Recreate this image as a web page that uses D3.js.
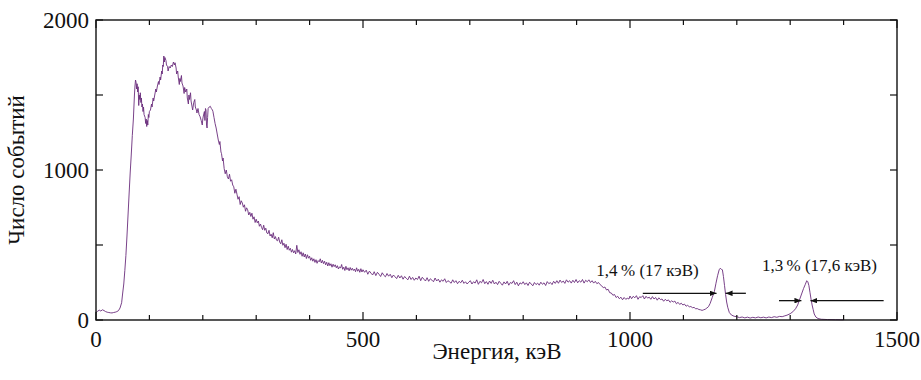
<!DOCTYPE html>
<html><head><meta charset="utf-8">
<script src="https://cdn.jsdelivr.net/npm/d3@7"></script>
<style>
html,body{margin:0;padding:0;background:#fff;}
</style></head>
<body><svg id="c" width="921" height="380"></svg>
<script>
// ---- data ----
const energy = [0,3,6,9,12,15,18,21,24,27,30,33,36,39,42,45,48,
50,52,54,56,58,60,62,64,66,68,70,71,72,73,74,75,76,77,78,79,80,81,82,83,84,85,86,87,88,89,90,92,93,94,95,96,97,98,99,100,
102,104,105,107,108,110,112,113,115,117,118,120,121,123,124,125,126,127,128,129,131,132,134,135,137,139,141,143,145,147,148,150,
151,153,154,156,157,158,160,161,163,165,166,168,170,171,173,174,175,177,178,180,181,183,185,186,188,189,191,193,195,197,199,200,
201,203,204,205,206,207,208,209,210,212,214,216,218,219,221,223,225,227,229,231,232,234,235,237,238,
240,242,244,246,248,250,252,254,256,258,260,262,264,266,268,270,272,274,276,278,280,282,284,286,288,290,292,294,296,298,
300,302,304,306,308,310,312,314,316,318,320,322,324,326,328,330,332,334,336,338,340,342,344,346,348,350,352,354,356,358,
360,362,364,366,368,370,372,374,376,378,380,382,384,386,388,390,392,394,396,398,400,402,404,406,408,410,412,414,416,418,
420,422,424,426,428,430,432,434,436,438,440,442,444,446,448,450,452,454,456,458,460,462,464,466,468,470,472,474,476,478,
480,482,484,486,488,490,492,494,496,498,500,
503,506,509,512,515,518,521,524,527,530,533,536,539,542,545,548,551,554,557,560,563,566,569,572,575,578,581,584,587,590,593,596,599,
602,605,608,611,614,617,620,623,626,629,632,635,638,641,644,647,650,653,656,659,662,665,668,671,674,677,680,683,686,689,692,695,698,
701,704,707,710,713,716,719,722,725,728,731,734,737,740,743,746,749,752,755,758,761,764,767,770,773,776,779,782,785,788,791,794,797,
800,803,806,809,812,815,818,821,824,827,830,833,836,839,842,845,848,851,854,857,860,863,866,869,872,875,878,881,884,887,890,893,896,899,
902,905,908,911,914,917,920,923,926,929,932,935,938,941,944,947,950,953,956,959,962,965,968,971,974,977,980,983,986,989,992,995,998,
1000,1003,1006,1009,1012,1015,1018,1021,1024,1027,1030,1033,1036,1039,1042,1045,1048,1051,1054,1057,1060,1063,1066,1069,1072,1075,1078,
1081,1084,1087,1090,1093,1096,1099,1102,1105,1108,1111,1114,1117,1120,1123,1126,1129,1132,1135,1138,1141,1144,1147,
1150,1154,1158,1161,1164,1167,1169,1171,1173,1175,1177,1179,1181,1183,1186,1190,1195,
1200,1205,1210,1215,1220,1225,1230,1235,1240,1245,1250,1255,1260,1265,1270,1275,1280,1285,1290,1294,1300,1305,1310,1314,1318,
1322,1325,1328,1331,1333,1335,1337,1339,1341,1343,1345,1348,1352,1358,1370,1385,1400];
const counts = [50,58,66,60,68,63,56,52,50,48,47,50,52,56,62,80,115,
180,240,330,430,560,700,840,980,1100,1230,1340,1420,1500,1560,1600,1585,1540,1575,1520,1555,1430,1500,1470,1515,1450,1480,1420,1440,1390,1420,1370,1350,1310,1340,1290,1330,1300,1370,1350,1390,
1400,1440,1420,1480,1460,1500,1540,1520,1560,1590,1570,1620,1600,1660,1640,1700,1690,1760,1720,1750,1730,1700,1690,1660,1690,1680,1700,1690,1720,1700,1715,1680,
1640,1660,1620,1570,1610,1590,1630,1580,1560,1510,1550,1520,1540,1480,1440,1500,1470,1515,1460,1420,1400,1450,1470,1420,1400,1380,1410,1370,1355,1330,1300,1340,
1360,1390,1330,1410,1400,1300,1280,1350,1410,1420,1425,1410,1400,1390,1350,1310,1280,1240,1200,1170,1190,1120,1110,1060,1080,
1010,975,1000,955,940,972,925,935,900,888,845,872,838,805,822,770,795,780,752,768,725,748,735,700,718,690,712,672,688,650,
672,648,660,625,640,618,602,632,598,612,580,575,598,560,572,548,582,540,556,532,528,552,520,508,535,498,512,482,505,470,
492,465,478,452,470,448,462,440,498,450,468,438,455,425,448,420,440,410,435,412,425,398,415,392,408,384,402,378,396,388,
408,380,398,376,392,368,385,360,382,362,375,352,372,356,368,348,362,340,355,346,370,338,352,330,358,335,348,328,350,332,
345,330,340,322,348,325,338,318,342,320,335,
318,332,305,326,312,300,322,296,318,305,290,315,298,288,310,292,305,282,300,288,276,298,280,295,272,290,278,268,292,270,284,265,280,
270,292,262,285,272,260,282,258,275,266,255,280,260,272,252,268,258,275,250,262,255,245,268,250,262,242,258,248,265,244,255,240,252,
262,240,255,246,268,238,258,248,270,242,256,238,260,244,265,240,252,236,258,245,232,254,240,258,232,250,244,262,236,252,228,248,240,
255,236,248,230,252,240,228,250,236,246,232,252,238,248,230,256,242,250,236,258,244,262,245,266,250,260,244,268,252,262,246,265,250,270,
248,262,252,270,246,265,255,268,250,262,246,258,242,250,236,228,215,220,200,205,182,180,165,170,150,158,142,152,135,150,138,145,140,
160,142,158,148,162,138,155,150,162,140,158,146,152,138,156,140,150,132,148,136,140,125,138,128,134,118,128,
120,126,108,118,104,112,100,106,92,98,88,90,82,84,75,76,70,68,64,68,72,80,89,
110,150,190,245,295,335,345,338,335,290,230,170,120,85,50,33,25,
22,16,20,14,19,13,18,14,20,15,19,14,20,16,22,18,24,22,28,32,42,55,75,100,140,
180,210,235,262,255,230,185,140,100,70,40,20,10,5,3,2,1];

const xTickLabels = [0, 500, 1000, 1500];
const yTickLabels = [0, 1000, 2000];
const xMinorTicks = d3.range(0, 1501, 100);
const yMinorTicks = [500, 1500];
const xTitle = "Энергия, кэВ";
const yTitle = "Число событий";

const annotLabels = ["1,4\u2009% (17 кэВ)", "1,3\u2009% (17,6 кэВ)"];
const annotLabelPos = [[937, 293], [1247, 327]];      // [energy, counts] of label start
const annotLevel = [178, 129];                          // half-maximum level, counts
const annotTips = [[1162, 1179], [1321, 1338]];         // FWHM edges, keV
const annotLineEnds = [[1024, 1217], [1279, 1475]];     // outer ends of arrow lines, keV

// ---- layout ----
const FONT = "'Liberation Serif', Tinos, 'DejaVu Serif', 'Noto Serif', serif";
const svg = d3.select("#c").attr("font-family", FONT);
const m = {left: 96, right: 897, top: 20, bottom: 320};
const x = d3.scaleLinear().domain([0, 1500]).range([m.left, m.right]);
const y = d3.scaleLinear().domain([0, 2000]).range([m.bottom, m.top]);

// curve
const pts = energy.map((e, i) => [e, counts[i]]);
svg.append("path")
  .attr("d", d3.line().x(d => x(d[0])).y(d => y(d[1]))(pts))
  .attr("fill", "none").attr("stroke", "#6a2c7c").attr("stroke-width", 0.9)
  .attr("stroke-linejoin", "round");

// frame
svg.append("rect").attr("x", m.left).attr("y", m.top)
  .attr("width", m.right - m.left).attr("height", m.bottom - m.top)
  .attr("fill", "none").attr("stroke", "#111").attr("stroke-width", 1.4);

// ticks (inward, mirrored)
const tk = svg.append("g").attr("stroke", "#111").attr("stroke-width", 1.2);
xMinorTicks.forEach(v => {
  const L = (v % 500 === 0) ? 8 : 5;
  tk.append("line").attr("x1", x(v)).attr("x2", x(v)).attr("y1", m.bottom).attr("y2", m.bottom - L);
  tk.append("line").attr("x1", x(v)).attr("x2", x(v)).attr("y1", m.top).attr("y2", m.top + L);
});
yTickLabels.concat(yMinorTicks).forEach(v => {
  const L = 7;
  tk.append("line").attr("y1", y(v)).attr("y2", y(v)).attr("x1", m.left).attr("x2", m.left + L);
  tk.append("line").attr("y1", y(v)).attr("y2", y(v)).attr("x1", m.right).attr("x2", m.right - L);
});

// tick labels
svg.append("g").selectAll("text").data(xTickLabels).join("text")
  .attr("x", d => x(d)).attr("y", 347).attr("text-anchor", "middle")
  .attr("font-size", 23).attr("fill", "#111").text(d => d);
svg.append("g").selectAll("text").data(yTickLabels).join("text")
  .attr("x", 89).attr("y", d => y(d)).attr("dy", "0.34em").attr("text-anchor", "end")
  .attr("font-size", 23).attr("fill", "#111").text(d => d);

// titles
svg.append("text").attr("x", 497).attr("y", 359).attr("text-anchor", "middle")
  .attr("font-size", 23).attr("fill", "#111").text(xTitle);
svg.append("text").attr("transform", "translate(24,170) rotate(-90)").attr("text-anchor", "middle")
  .attr("font-size", 23).attr("fill", "#111").text(yTitle);

// annotations
const defs = svg.append("defs");
defs.append("marker").attr("id", "ah").attr("viewBox", "0 0 10 8").attr("refX", 10).attr("refY", 4)
  .attr("markerWidth", 7).attr("markerHeight", 5.6).attr("markerUnits", "userSpaceOnUse")
  .attr("orient", "auto").append("path").attr("d", "M0,0 L10,4 L0,8 Z").attr("fill", "#111");

const ann = svg.append("g");
annotLabels.forEach((lab, i) => {
  const yy = y(annotLevel[i]);
  ann.append("line").attr("x1", x(annotLineEnds[i][0])).attr("x2", x(annotTips[i][0]))
    .attr("y1", yy).attr("y2", yy).attr("stroke", "#111").attr("stroke-width", 1.3).attr("marker-end", "url(#ah)");
  ann.append("line").attr("x1", x(annotLineEnds[i][1])).attr("x2", x(annotTips[i][1]))
    .attr("y1", yy).attr("y2", yy).attr("stroke", "#111").attr("stroke-width", 1.3).attr("marker-end", "url(#ah)");
  ann.append("text").attr("x", x(annotLabelPos[i][0])).attr("y", y(annotLabelPos[i][1]))
    .attr("font-size", 17).attr("fill", "#111").text(lab);
});
</script></body></html>
